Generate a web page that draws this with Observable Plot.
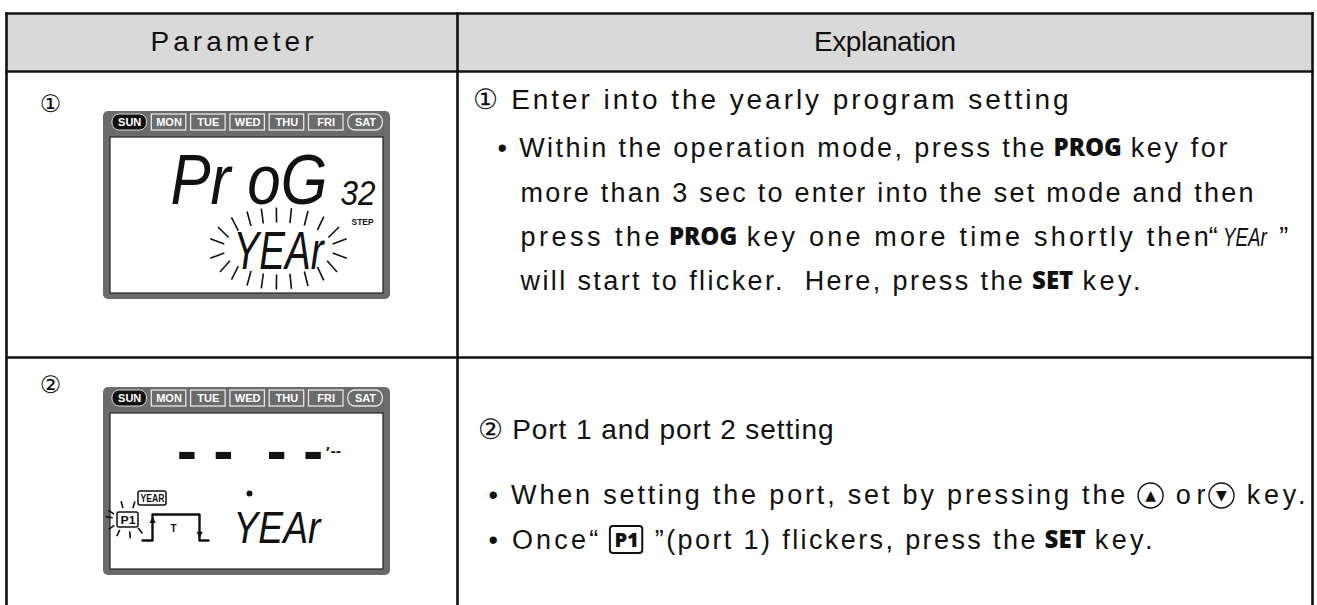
<!DOCTYPE html>
<html><head><meta charset="utf-8">
<script src="https://cdn.jsdelivr.net/npm/d3@7"></script>
<script src="https://cdn.jsdelivr.net/npm/@observablehq/plot@0.6"></script>
<style>html,body{margin:0;padding:0;background:#fff;}</style>
</head><body><div id="chart"></div>
<script>
// ---------------- data ----------------
const headers = ["Parameter", "Explanation"];
const stepMarks = ["①", "②"];
const dayLabels = ["SUN", "MON", "TUE", "WED", "THU", "FRI", "SAT"];
const lcdTopText = ["Pr oG", "- -  - -"];
const lcdStepDigits = "32";
const lcdStepUnit = "STEP";
const lcdBottomText = ["YEAr", "YEAr"];
const lcdBadges = ["YEAR", "P1"];
const lcdPulseLabel = "T";
const lcdTail = "’--";
const row1Lines = [
  [["① Enter into the yearly program setting", "t"]],
  [["• Within the operation mode, press the ", "n"], ["PROG", "b"], [" key for", "n"]],
  [["more than 3 sec to enter into the set mode and then", "n"]],
  [["press the ", "n"], ["PROG", "b"], [" key one more time shortly then", "n"], ["“", "n"], ["YEAr", "lcd"], [" ”", "n"]],
  [["will start to flicker.  Here, press the ", "n"], ["SET", "b"], [" key.", "n"]]
];
const row2Lines = [
  [["② Port 1 and port 2 setting", "t"]],
  [["• When setting the port, set by pressing the ", "n"], ["▲", "up"], [" or", "n"], ["▼", "down"], [" key.", "n"]],
  [["• Once“ ", "n"], ["P1", "box"], [" ”(port 1) flickers, press the ", "n"], ["SET", "b"], [" key.", "n"]]
];

// ---------------- layout ----------------
const W = 1317, H = 605;
const colX = [6, 457, 1312];
const rowY = [13, 71, 357];
const lineY = [[100, 148, 193, 237, 281], [430, 495, 540]];
const lineX = [[[472, 1068], [497, 1227], [520, 1253], [520, 1290], [520, 1140]],
               [[477, 833], [488, 1305], [488, 1152]]];
const stepY = [104, 385];
const panelTop = [111, 387];

const FN = '"Liberation Sans Narrow","Liberation Sans",Arial,sans-serif';
const FR = '"Liberation Sans",Arial,sans-serif';
const FB = '"Open Sans","Liberation Sans",sans-serif';
const FC = '"DejaVu Sans",sans-serif';

const segStyle = {
  t:   {family: FN, size: 28, weight: "normal", style: "normal"},
  n:   {family: FN, size: 27, weight: "normal", style: "normal"},
  b:   {family: FB, size: 24, weight: "800", style: "normal"},
  lcd: {family: FN, size: 25, weight: "normal", style: "italic"},
  box: {family: FB, size: 20, weight: "800", style: "normal"}
};
const ctx = document.createElement("canvas").getContext("2d");
function measure(text, st) {
  ctx.font = `${st.style} ${st.weight} ${st.size}px ${st.family}`;
  return ctx.measureText(text).width;
}

const textSegs = {t: [], n: [], b: [], lcd: [], box: []};
const iconSegs = [];
const boxRects = [];
function layoutLine(segs, x0, x1, y) {
  const items = segs.map(([text, kind]) => {
    if (kind === "up" || kind === "down") return {text, kind, w: 32};
    const st = segStyle[kind];
    const lead = text.length - text.trimStart().length;
    const trimmed = text.trim();
    const pad = kind === "box" ? 14 : kind === "lcd" ? 6 : 0;
    const lcdW = kind === "lcd" ? 0.75 : 1;
    return {text, kind, trimmed,
      leadW: measure(text.slice(0, lead), st) + pad / 2,
      coreW: measure(trimmed, st) * lcdW,
      w: measure(text, st) * lcdW + pad};
  });
  const natural = d3.sum(items, d => d.w);
  const flex = d3.sum(items, d => (d.kind === "n" || d.kind === "t") ? d.w : 0);
  const k = 1 + (x1 - x0 - natural) / flex;
  let x = x0;
  for (const it of items) {
    const s = (it.kind === "n" || it.kind === "t") ? k : 1;
    const w = it.w * s;
    if (it.kind === "up" || it.kind === "down") iconSegs.push({x: x + w / 2, y, text: it.text});
    else if (it.kind === "box") {
      boxRects.push({x1: x + 3, x2: x + w - 3, y1: y - 14, y2: y + 13});
      textSegs.box.push({x: x + w / 2, y, text: it.trimmed});
    } else if (it.trimmed) textSegs[it.kind].push({x: x + it.leadW * s, y, text: it.trimmed, len: it.coreW * s});
    x += w;
  }
}
[row1Lines, row2Lines].forEach((lines, r) => lines.forEach((segs, i) => layoutLine(segs, lineX[r][i][0], lineX[r][i][1], lineY[r][i])));

// table geometry
const headerBg = [{x1: colX[0], x2: colX[2], y1: rowY[0], y2: rowY[1]}];
const hLines = rowY.map(y => ({x1: colX[0], x2: colX[2], y1: y, y2: y}));
const vLines = colX.map(x => ({x1: x, x2: x, y1: rowY[0], y2: H + 5}));
const headerText = headers.map((h, i) => ({x: (colX[i] + colX[i + 1]) / 2, y: (rowY[0] + rowY[1]) / 2, text: h, len: i === 0 ? 163 : 142}));
const stepText = stepMarks.map((s, i) => ({x: 50, y: stepY[i], text: s}));

// LCD panels
const panels = panelTop.map(t => ({x1: 103, x2: 390, y1: t, y2: t + 188}));
const screens = panelTop.map(t => ({x1: 110, x2: 383, y1: t + 26, y2: t + 182}));
const days = panelTop.flatMap(t => dayLabels.map((d, i) => ({
  x1: 112 + i * 39.3, x2: 112 + i * 39.3 + 34.5, y1: t + 3, y2: t + 19,
  x: 112 + i * 39.3 + 17.2, y: t + 11, text: d, pos: i
})));
const dayEnds = days.filter(d => d.pos === 0);
const daySat = days.filter(d => d.pos === 6);
const dayMid = days.filter(d => d.pos > 0 && d.pos < 6);

const T1 = panelTop[0], T2 = panelTop[1];
const lcdBig = [{x: 170, y: T1 + 70, text: lcdTopText[0], len: 157}];
const lcdStep = [{x: 340, y: T1 + 82, text: lcdStepDigits, len: 35}];
const lcdUnit = [{x: 362, y: T1 + 111, text: lcdStepUnit, len: 22}];
const lcdSub = [
  {x: 233, y: T1 + 140, text: lcdBottomText[0], len: 90},
  {x: 233, y: T2 + 141, text: lcdBottomText[1], len: 87}
];
const lcdDash = [{x: 176, y: T2 + 66, text: lcdTopText[1], len: 147}];
const lcdTailT = [{x: 325, y: T2 + 64, text: lcdTail}];
const lcdDot = [{x: 249, y: T2 + 106}];
const badgeBoxes = [
  {x1: 138, x2: 166, y1: T2 + 104, y2: T2 + 118, x: 152, y: T2 + 111, text: lcdBadges[0], len: 24},
  {x1: 117, x2: 138, y1: T2 + 125, y2: T2 + 140, x: 127.5, y: T2 + 132.5, text: lcdBadges[1], len: 15}
];
const pulseShape = [[0, 26], [10, 26], [10, 0], [57, 0], [57, 26], [66, 26]];
const pulse = pulseShape.map(([dx, dy]) => ({x: 142 + dx, y: T2 + 127 + dy}));
const pulseArrows = [{x: 152, y: T2 + 132, text: "▲"}, {x: 199, y: T2 + 147, text: "▼"}];
const pulseT = [{x: 173, y: T2 + 141, text: lcdPulseLabel}];

function rays(cx, cy, rx, ry, L, ts) {
  return ts.map(t => {
    const r = t * Math.PI / 180;
    const px = cx + rx * Math.cos(r), py = cy + ry * Math.sin(r);
    let nx = Math.cos(r) / rx, ny = Math.sin(r) / ry;
    const m = Math.hypot(nx, ny); nx /= m; ny /= m;
    return {x1: px, y1: py, x2: px + L * nx, y2: py + L * ny};
  });
}
const yearRayAngles = [-137, -120, -106, -92, -78, -62, -45, -155, -170, 170, 152, -25, -10, 10, 28, 45, 62, 78, 92, 106, 120, 137];
const p1RayAngles = [-108, -69, -153, -172, 151, 121, 82, 45];
const rayLines = [
  ...rays(278, T1 + 137, 55, 26, 15, yearRayAngles),
  ...rays(127, T2 + 132, 15, 12, 7, p1RayAngles)
];

// ---------------- plot ----------------
const fitQueue = new Map();
function fitText(data, mode, opts) {
  for (const d of data) if (d.len) {
    const q = fitQueue.get(d.text) || [];
    q.push({len: d.len, mode});
    fitQueue.set(d.text, q);
  }
  return Plot.text(data, {x: "x", y: "y", text: "text", textAnchor: "start", lineAnchor: "middle", ...opts});
}
const R = {x1: "x1", x2: "x2", y1: "y1", y2: "y2"};
const SG = "squeeze", SP = "spacing";

const svg = Plot.plot({
  width: W, height: H, margin: 0,
  x: {type: "identity", axis: null},
  y: {type: "identity", axis: null},
  style: {background: "#fff"},
  marks: [
    Plot.rect(headerBg, {...R, fill: "#d9d9d9"}),
    // LCD panels
    Plot.rect(panels, {...R, fill: "#6b6b6b", rx: 5}),
    Plot.rect(screens, {...R, fill: "#fff", stroke: "#222", strokeWidth: 1.2}),
    Plot.rect(dayEnds, {...R, fill: "#111", stroke: "#ddd", strokeWidth: 1, rx: 7}),
    Plot.rect(dayMid, {...R, fill: "none", stroke: "#e6e6e6", strokeWidth: 1.3}),
    Plot.rect(daySat, {...R, fill: "none", stroke: "#e6e6e6", strokeWidth: 1.3, rx: 7}),
    Plot.text(days, {x: "x", y: "y", text: "text", fill: "#fff", fontFamily: FR, fontWeight: "bold", fontSize: 11}),
    fitText(lcdBig, SG, {fontFamily: FN, fontStyle: "italic", fontSize: 70, fill: "#111"}),
    fitText(lcdStep, SG, {fontFamily: FN, fontStyle: "italic", fontSize: 36, fill: "#111"}),
    fitText(lcdUnit, SG, {textAnchor: "middle", fontFamily: FN, fontWeight: "bold", fontSize: 9, fill: "#111"}),
    Plot.link(rayLines, {...R, stroke: "#111", strokeWidth: 1.6}),
    fitText(lcdSub.slice(0, 1), SG, {fontFamily: FN, fontStyle: "italic", fontSize: 54, fill: "#111"}),
    fitText(lcdSub.slice(1), SG, {fontFamily: FN, fontStyle: "italic", fontSize: 44, fill: "#111"}),
    fitText(lcdDash, SP, {fontFamily: FC, fontWeight: "bold", fontSize: 50, fill: "#111"}),
    Plot.text(lcdTailT, {x: "x", y: "y", text: "text", textAnchor: "start", fontFamily: FC, fontWeight: "bold", fontSize: 13, fill: "#111"}),
    Plot.dot(lcdDot, {x: "x", y: "y", r: 3, fill: "#111"}),
    Plot.rect(badgeBoxes, {...R, fill: "#fff", stroke: "#111", strokeWidth: 1.5, rx: 2}),
    fitText(badgeBoxes, SG, {textAnchor: "middle", fontFamily: FN, fontWeight: "bold", fontSize: 11, fill: "#111"}),
    Plot.line(pulse, {x: "x", y: "y", stroke: "#111", strokeWidth: 2.4}),
    Plot.text(pulseArrows, {x: "x", y: "y", text: "text", fontFamily: FC, fontSize: 8, fill: "#111"}),
    Plot.text(pulseT, {x: "x", y: "y", text: "text", fontFamily: FR, fontWeight: "bold", fontSize: 10, fill: "#111"}),
    // table text
    fitText(headerText, SP, {textAnchor: "middle", fontFamily: FR, fontSize: 28, fill: "#111"}),
    Plot.text(stepText, {x: "x", y: "y", text: "text", fontFamily: FC, fontSize: 24, fill: "#111"}),
    fitText(textSegs.t, SP, {fontFamily: FN, fontSize: segStyle.t.size, fill: "#111"}),
    fitText(textSegs.n, SP, {fontFamily: FN, fontSize: segStyle.n.size, fill: "#111"}),
    Plot.text(textSegs.b, {x: "x", y: "y", text: "text", textAnchor: "start", fontFamily: FB, fontWeight: 800, fontSize: segStyle.b.size, fill: "#111"}),
    fitText(textSegs.lcd, SG, {fontFamily: FN, fontStyle: "italic", fontSize: segStyle.lcd.size, fill: "#111"}),
    Plot.rect(boxRects, {...R, fill: "none", stroke: "#111", strokeWidth: 2, rx: 3}),
    Plot.text(textSegs.box, {x: "x", y: "y", text: "text", fontFamily: FB, fontWeight: 800, fontSize: segStyle.box.size, fill: "#111"}),
    Plot.dot(iconSegs, {x: "x", y: "y", r: 12.5, fill: "#fff", stroke: "#111", strokeWidth: 1.4}),
    Plot.text(iconSegs, {x: "x", y: "y", text: "text", fontFamily: FC, fontSize: 14, fill: "#111"}),
    // table rules
    Plot.link([...hLines, ...vLines], {...R, stroke: "#111", strokeWidth: 2.6, strokeLinecap: "square"})
  ]
});
document.getElementById("chart").appendChild(svg);
// fit texts to their measured widths: letter spacing for prose, horizontal squeeze for LCD glyphs
svg.querySelectorAll("text").forEach(el => {
  const q = fitQueue.get(el.textContent);
  if (!q || !q.length) return;
  const f = q.shift();
  if (f.mode === SP) {
    el.setAttribute("textLength", f.len);
    el.setAttribute("lengthAdjust", "spacing");
  } else {
    const natural = el.getComputedTextLength();
    if (!natural) return;
    const sx = f.len / natural;
    const tr = el.getAttribute("transform");
    if (tr) el.setAttribute("transform", `${tr} scale(${sx},1)`);
    else {
      const x = +el.getAttribute("x") || 0, y = +el.getAttribute("y") || 0;
      el.setAttribute("transform", `translate(${x},${y}) scale(${sx},1) translate(${-x},${-y})`);
    }
  }
});
</script>
</body></html>
